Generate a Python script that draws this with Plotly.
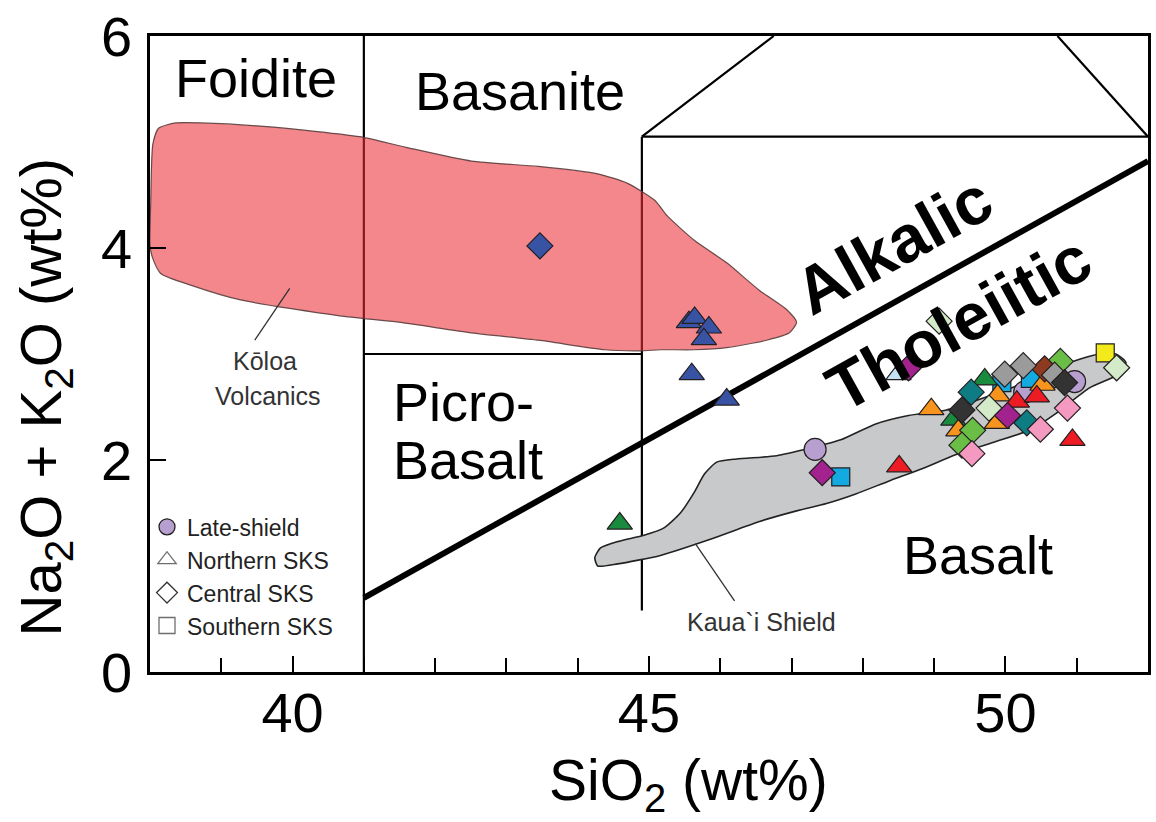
import plotly.graph_objects as go

# ---- total alkali vs silica data (wt%) ----
LATE_SIO2 = [47.33, 50.27, 50.97]
LATE_ALK = [2.10, 2.64, 2.74]
LATE_UNIT = ["C", "C", "C"]

SOUTH_SIO2 = [47.69, 51.40, 49.95, 50.35]
SOUTH_ALK = [1.84, 3.01, 2.73, 2.77]
SOUTH_UNIT = ["E", "O", "E", "E"]

NORTH_SIO2 = [45.56, 45.64, 45.84, 45.77, 45.60, 46.09,
              44.59, 49.71, 49.27, 48.50,
              48.96, 49.89, 49.88, 49.34, 50.52,
              50.16, 50.44, 50.94, 48.51]
NORTH_ALK = [3.30, 3.34, 3.25, 3.14, 2.81, 2.57,
             1.40, 2.76, 2.38, 2.81,
             2.48, 2.61, 2.35, 2.28, 2.71,
             2.55, 2.60, 2.19, 1.94]
NORTH_UNIT = ["A", "A", "A", "A", "A", "A",
              "B", "B", "B", "P",
              "G", "G", "G", "G", "G",
              "F", "F", "F", "F"]

CENTRAL_SIO2 = [43.47, 49.07, 48.64, 51.56, 50.77, 50.55, 50.25, 49.99,
                50.69, 50.83, 49.52, 49.39, 49.77, 50.03, 50.30, 50.87,
                50.49, 49.54, 49.39, 49.53, 47.43]
CENTRAL_ALK = [4.02, 3.31, 2.87, 2.87, 2.93, 2.86, 2.89, 2.81,
               2.80, 2.73, 2.64, 2.47, 2.49, 2.42, 2.35, 2.49,
               2.29, 2.28, 2.14, 2.06, 1.88]
CENTRAL_UNIT = ["A", "J", "D", "J", "K", "N", "M", "M",
                "M", "I", "H", "I", "J", "D", "H", "L",
                "L", "K", "K", "L", "D"]

UNIT_COLORS = {
    "A": "#3953A4", "B": "#1A8A3E", "C": "#B79FCF", "D": "#A3238E",
    "E": "#13A9E1", "F": "#ED1C24", "G": "#F7941D", "H": "#0E7C83",
    "I": "#333333", "J": "#D3EBC8", "K": "#6BBE45", "L": "#F49AC1",
    "M": "#9B9B9B", "N": "#8E3A1F", "O": "#F2EA1B", "P": "#C3E2F2",
}

# ---- Koloa Volcanics field outline ----
KOLOA_SIO2 = [38.04, 38.12, 38.36, 38.71, 39.73, 40.94, 41.59, 42.51, 43.45,
              44.28, 44.70, 45.08, 45.26, 45.64, 46.09, 46.55, 46.93, 47.07,
              46.97, 46.65, 46.09, 45.63, 45.16, 44.88, 44.38, 43.45, 42.51,
              41.49, 40.66, 39.27, 38.57, 38.15, 38.04, 38.00, 38.01, 38.04]
KOLOA_ALK = [4.98, 5.13, 5.18, 5.18, 5.14, 5.05, 4.95, 4.82, 4.77,
             4.70, 4.61, 4.45, 4.30, 4.07, 3.86, 3.60, 3.42, 3.30,
             3.20, 3.13, 3.06, 3.04, 3.04, 3.03, 3.04, 3.13, 3.20,
             3.30, 3.36, 3.51, 3.65, 3.76, 3.90, 4.02, 4.42, 4.98]

# ---- Kaua`i shield field outline ----
KAUAI_SIO2 = [44.24, 44.32, 44.56, 44.93, 45.21, 45.44, 45.63, 45.78, 45.95,
              46.23, 46.79, 47.25, 47.69, 48.18, 48.64, 49.16, 49.71, 50.27,
              50.69, 51.04, 51.32, 51.55, 51.69, 51.59, 51.18, 50.69, 50.37,
              49.85, 49.30, 48.84, 48.36, 47.90, 47.49, 47.07, 46.55, 45.85,
              45.16, 44.56, 44.28, 44.24]
KAUAI_ALK = [1.08, 1.17, 1.23, 1.29, 1.36, 1.50, 1.69, 1.87, 1.98,
             2.01, 2.04, 2.11, 2.19, 2.34, 2.42, 2.47, 2.59, 2.73,
             2.86, 2.95, 3.00, 3.00, 2.92, 2.81, 2.68, 2.43, 2.29,
             2.17, 2.05, 1.92, 1.80, 1.68, 1.59, 1.52, 1.42, 1.25,
             1.10, 1.02, 1.00, 1.08]

# ---- TAS field boundaries ----
BOUNDARIES = [
    ([41.0, 41.0], [0.0, 6.0]),
    ([41.0, 44.9], [3.0, 3.0]),
    ([44.9, 44.9], [0.58, 5.05]),
    ([44.9, 52.0], [5.05, 5.05]),
    ([44.9, 46.75], [5.05, 6.0]),
    ([50.73, 52.0], [6.0, 5.05]),
]
ALK_THOL_SIO2 = [41.0, 52.0]
ALK_THOL_ALK = [0.70, 4.82]

FONT = "Liberation Sans, Arial, sans-serif"
OUTLINE = "#231F20"

fig = go.Figure()

for bx, by in BOUNDARIES:
    fig.add_trace(go.Scatter(x=bx, y=by, mode="lines", showlegend=False,
                             hoverinfo="skip",
                             line=dict(color="black", width=2.2)))
fig.add_trace(go.Scatter(x=ALK_THOL_SIO2, y=ALK_THOL_ALK, mode="lines",
                         showlegend=False, hoverinfo="skip",
                         line=dict(color="black", width=6)))

# Koloa field (translucent, lines show through)
fig.add_trace(go.Scatter(x=KOLOA_SIO2, y=KOLOA_ALK, mode="lines",
                         fill="toself", fillcolor="rgba(236,44,51,0.57)",
                         line=dict(color="rgba(90,60,60,0.9)", width=1.2,
                                   shape="spline", smoothing=0.6),
                         showlegend=False, hoverinfo="skip"))
# Kaua`i shield field
fig.add_trace(go.Scatter(x=KAUAI_SIO2, y=KAUAI_ALK, mode="lines",
                         fill="toself", fillcolor="#C8C9CB",
                         line=dict(color="#222222", width=1.6,
                                   shape="spline", smoothing=0.6),
                         showlegend=False, hoverinfo="skip"))

# leader lines for field labels
fig.add_trace(go.Scatter(x=[39.47, 39.96], y=[3.13, 3.62], mode="lines",
                         showlegend=False, hoverinfo="skip",
                         line=dict(color="#333333", width=1.3)))
fig.add_trace(go.Scatter(x=[45.65, 46.20], y=[1.21, 0.67], mode="lines",
                         showlegend=False, hoverinfo="skip",
                         line=dict(color="#333333", width=1.3)))


def add_points(xs, ys, units, symbol, size):
    fig.add_trace(go.Scatter(
        x=xs, y=ys, mode="markers", showlegend=False,
        marker=dict(symbol=symbol, size=size,
                    color=[UNIT_COLORS[u] for u in units],
                    line=dict(color=OUTLINE, width=1.2))))


add_points(LATE_SIO2, LATE_ALK, LATE_UNIT, "circle", 22)
add_points(SOUTH_SIO2, SOUTH_ALK, SOUTH_UNIT, "square", 18)
add_points(NORTH_SIO2, NORTH_ALK, NORTH_UNIT, "triangle-up", 22)
add_points(CENTRAL_SIO2, CENTRAL_ALK, CENTRAL_UNIT, "diamond", 20)

# legend keys
legend_keys = [
    ("Late-shield", "circle", "#B79FCF", OUTLINE),
    ("Northern SKS", "triangle-up-open", "#6E6E6E", "#6E6E6E"),
    ("Central SKS", "diamond-open", "#333333", "#333333"),
    ("Southern SKS", "square-open", "#6E6E6E", "#6E6E6E"),
]
for name, sym, col, lcol in legend_keys:
    fig.add_trace(go.Scatter(x=[None], y=[None], mode="markers", name=name,
                             marker=dict(symbol=sym, size=16, color=col,
                                         line=dict(color=lcol, width=1.3))))

labels = [
    ("Foidite", 39.48, 5.60, 54, "center", 0, False, "black"),
    ("Basanite", 43.19, 5.48, 54, "center", 0, False, "black"),
    ("Picro-", 41.38, 2.55, 54, "left", 0, False, "black"),
    ("Basalt", 41.38, 2.00, 54, "left", 0, False, "black"),
    ("Basalt", 49.61, 1.10, 54, "center", 0, False, "black"),
    ("Alkalic", 48.43, 4.03, 66, "center", -29, True, "black"),
    ("Tholeiitic", 49.35, 3.29, 66, "center", -29, True, "black"),
    ("Kōloa", 39.62, 2.93, 25, "center", 0, False, "#333333"),
    ("Volcanics", 39.66, 2.60, 25, "center", 0, False, "#333333"),
    ("Kaua`i Shield", 46.58, 0.47, 25, "center", 0, False, "#333333"),
]
for txt, x, y, sz, anchor, ang, bold, col in labels:
    fig.add_annotation(x=x, y=y, xref="x", yref="y",
                       text=f"<b>{txt}</b>" if bold else txt,
                       showarrow=False, xanchor=anchor, yanchor="middle",
                       textangle=ang,
                       font=dict(family=FONT, size=sz, color=col))

# axis titles
fig.add_annotation(x=0.54, y=-0.176, xref="paper", yref="paper",
                   text="SiO<sub>2</sub> (wt%)", showarrow=False,
                   xanchor="center", yanchor="middle",
                   font=dict(family=FONT, size=57, color="black"))
fig.add_annotation(x=-0.105, y=0.432, xref="paper", yref="paper",
                   text="Na<sub>2</sub>O + K<sub>2</sub>O (wt%)",
                   showarrow=False, textangle=-90,
                   xanchor="center", yanchor="middle",
                   font=dict(family=FONT, size=58, color="black"))

fig.update_layout(
    width=1156, height=822,
    margin=dict(l=150, r=5, t=31, b=150),
    paper_bgcolor="white", plot_bgcolor="white",
    font=dict(family=FONT, color="black"),
    showlegend=True,
    legend=dict(x=-0.003, y=0.262, xanchor="left", yanchor="top",
                bgcolor="rgba(0,0,0,0)", borderwidth=0,
                font=dict(family=FONT, size=23, color="#222222")),
    xaxis=dict(range=[38, 52], showgrid=False, zeroline=False,
               showline=True, linecolor="black", linewidth=2.5, mirror=True,
               ticks="inside", ticklen=16, tickwidth=2, tickcolor="black",
               tickvals=[40, 45, 50],
               minor=dict(tickvals=[39, 41, 42, 43, 44, 46, 47, 48, 49, 51],
                          ticks="inside", ticklen=14, tickwidth=2,
                          tickcolor="black", showgrid=False),
               tickfont=dict(family=FONT, size=56, color="black"),
               ticklabelstandoff=-10, ticklabeloverflow="allow"),
    yaxis=dict(range=[0, 6], showgrid=False, zeroline=False,
               showline=True, linecolor="black", linewidth=2.5, mirror=True,
               ticks="inside", ticklen=16, tickwidth=2, tickcolor="black",
               tickvals=[0, 2, 4, 6],
               tickfont=dict(family=FONT, size=56, color="black"),
               ticklabelstandoff=4, ticklabeloverflow="allow"),
)

fig.write_html("out.html")
